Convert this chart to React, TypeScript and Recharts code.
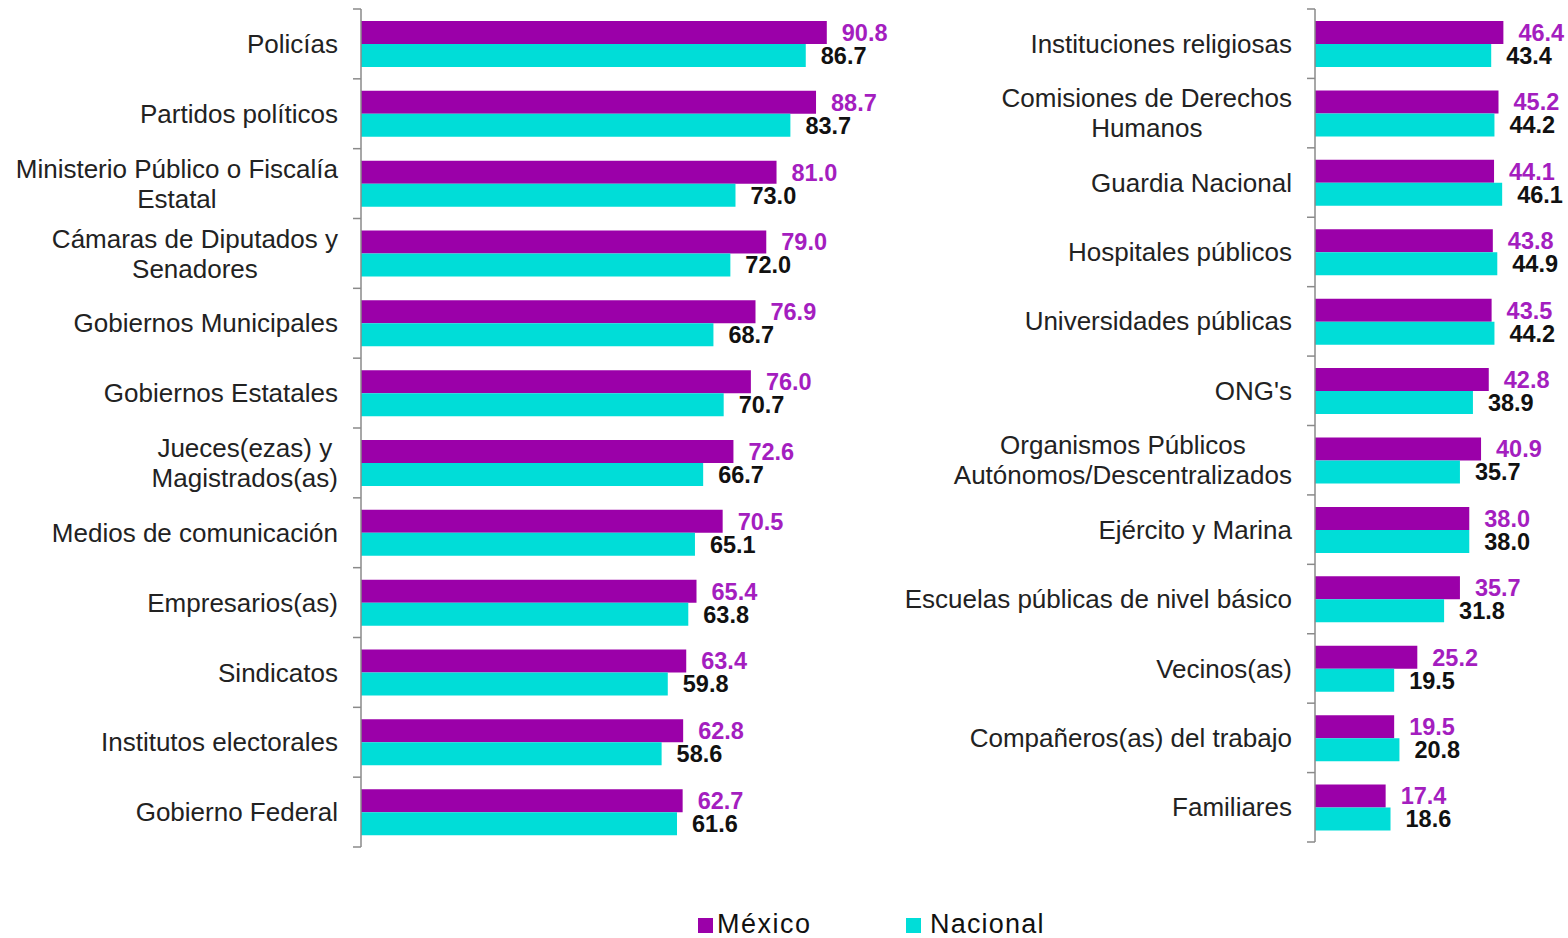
import React from 'react';
import { BarChart, Bar, XAxis, YAxis, LabelList } from 'recharts';

// left panel
const leftCategories = [
  'Policías',
  'Partidos políticos',
  'Ministerio Público o Fiscalía\nEstatal',
  'Cámaras de Diputados y\nSenadores',
  'Gobiernos Municipales',
  'Gobiernos Estatales',
  'Jueces(ezas) y\nMagistrados(as)',
  'Medios de comunicación',
  'Empresarios(as)',
  'Sindicatos',
  'Institutos electorales',
  'Gobierno Federal',
];
const leftMexico = [90.8, 88.7, 81.0, 79.0, 76.9, 76.0, 72.6, 70.5, 65.4, 63.4, 62.8, 62.7];
const leftNacional = [86.7, 83.7, 73.0, 72.0, 68.7, 70.7, 66.7, 65.1, 63.8, 59.8, 58.6, 61.6];

// right panel
const rightCategories = [
  'Instituciones religiosas',
  'Comisiones de Derechos\nHumanos',
  'Guardia Nacional',
  'Hospitales públicos',
  'Universidades públicas',
  "ONG's",
  'Organismos Públicos\nAutónomos/Descentralizados',
  'Ejército y Marina',
  'Escuelas públicas de nivel básico',
  'Vecinos(as)',
  'Compañeros(as) del trabajo',
  'Familiares',
];
const rightMexico = [46.4, 45.2, 44.1, 43.8, 43.5, 42.8, 40.9, 38.0, 35.7, 25.2, 19.5, 17.4];
const rightNacional = [43.4, 44.2, 46.1, 44.9, 44.2, 38.9, 35.7, 38.0, 31.8, 19.5, 20.8, 18.6];

const seriesNames = ['México', 'Nacional'];

const FONT = '"Liberation Sans", Arial, sans-serif';
const PURPLE = '#9B00A9';
const PURPLE_TXT = '#A41EBF';
const CYAN = '#00DDD8';
const AXIS = '#8a8a8a';
const TEXT = '#222';

let ctx: CanvasRenderingContext2D | null = null;
const measure = (s: string) => {
  if (!ctx) ctx = document.createElement('canvas').getContext('2d');
  if (!ctx) return s.length * 13;
  ctx.font = '26px "Liberation Sans", Arial, sans-serif';
  return ctx.measureText(s).width;
};

const makeTick = (band: number, count: number) => (props: any) => {
  const { x, y, payload, index } = props;
  const lines = String(payload.value).split('\n');
  const w = Math.max(...lines.map(measure));
  const cx = x - 23 - w / 2;
  const y0 = y - ((lines.length - 1) * 30) / 2;
  return (
    <g>
      <line x1={x - 8} x2={x} y1={y - band / 2} y2={y - band / 2} stroke={AXIS} strokeWidth={1.5} />
      {index === count - 1 && (
        <line x1={x - 8} x2={x} y1={y + band / 2} y2={y + band / 2} stroke={AXIS} strokeWidth={1.5} />
      )}
      <text textAnchor="middle" fill={TEXT} fontSize={26} fontFamily={FONT}>
        {lines.map((l, i) => (
          <tspan key={i} x={cx} y={y0 + i * 30} dy="0.35em">
            {l}
          </tspan>
        ))}
      </text>
    </g>
  );
};

interface PanelProps {
  categories: string[];
  mexico: number[];
  nacional: number[];
  left: number;
  axisWidth: number;
  plotWidth: number;
  rightMargin: number;
  top: number;
  bottom: number;
  max: number;
}

const Panel: React.FC<PanelProps> = ({ categories, mexico, nacional, left, axisWidth, plotWidth, rightMargin, top, bottom, max }) => {
  const data = categories.map((name, i) => ({ name, mexico: mexico[i], nacional: nacional[i] }));
  const height = 938;
  const band = (height - top - bottom) / categories.length;
  const fmt = (v: any) => Number(v).toFixed(1);
  return (
    <div style={{ position: 'absolute', left, top: 0 }}>
      <BarChart
        width={axisWidth + plotWidth + rightMargin}
        height={height}
        data={data}
        layout="vertical"
        margin={{ top, right: rightMargin, bottom, left: 0 }}
        barCategoryGap={12}
        barGap={0}
      >
        <XAxis type="number" domain={[0, max]} hide />
        <YAxis
          type="category"
          dataKey="name"
          width={axisWidth}
          interval={0}
          tickSize={0}
          tickMargin={0}
          tickLine={false}
          axisLine={{ stroke: AXIS, strokeWidth: 1.5 }}
          tick={makeTick(band, categories.length)}
        />
        <Bar dataKey="mexico" name={seriesNames[0]} fill={PURPLE} isAnimationActive={false}>
          <LabelList
            dataKey="mexico"
            position="right"
            offset={15}
            fill={PURPLE_TXT}
            fontSize={23.5}
            fontWeight="bold"
            fontFamily={FONT}
            formatter={fmt}
          />
        </Bar>
        <Bar dataKey="nacional" name={seriesNames[1]} fill={CYAN} isAnimationActive={false}>
          <LabelList
            dataKey="nacional"
            position="right"
            offset={15}
            fill="#111"
            fontSize={23.5}
            fontWeight="bold"
            fontFamily={FONT}
            formatter={fmt}
          />
        </Bar>
      </BarChart>
    </div>
  );
};

const App: React.FC = () => {
  return (
    <div style={{ position: 'fixed', left: 0, top: 0, width: 1568, height: 938, background: '#fff', overflow: 'hidden' }}>
      <Panel
        categories={leftCategories}
        mexico={leftMexico}
        nacional={leftNacional}
        left={0}
        axisWidth={361}
        plotWidth={513}
        rightMargin={66}
        top={9}
        bottom={91}
        max={100}
      />
      <Panel
        categories={rightCategories}
        mexico={rightMexico}
        nacional={rightNacional}
        left={895}
        axisWidth={420}
        plotWidth={203}
        rightMargin={50}
        top={9}
        bottom={96}
        max={50}
      />
      <svg width={1568} height={938} style={{ position: 'absolute', left: 0, top: 0, pointerEvents: 'none' }}>
        <rect x={698} y={918} width={15} height={15} fill={PURPLE} />
        <text x={717} y={933} fontSize={27} letterSpacing={1.5} fontFamily={FONT} fill="#111">{seriesNames[0]}</text>
        <rect x={906} y={918} width={15} height={15} fill={CYAN} />
        <text x={930} y={933} fontSize={27} letterSpacing={1.2} fontFamily={FONT} fill="#111">{seriesNames[1]}</text>
      </svg>
    </div>
  );
};

export default App;
